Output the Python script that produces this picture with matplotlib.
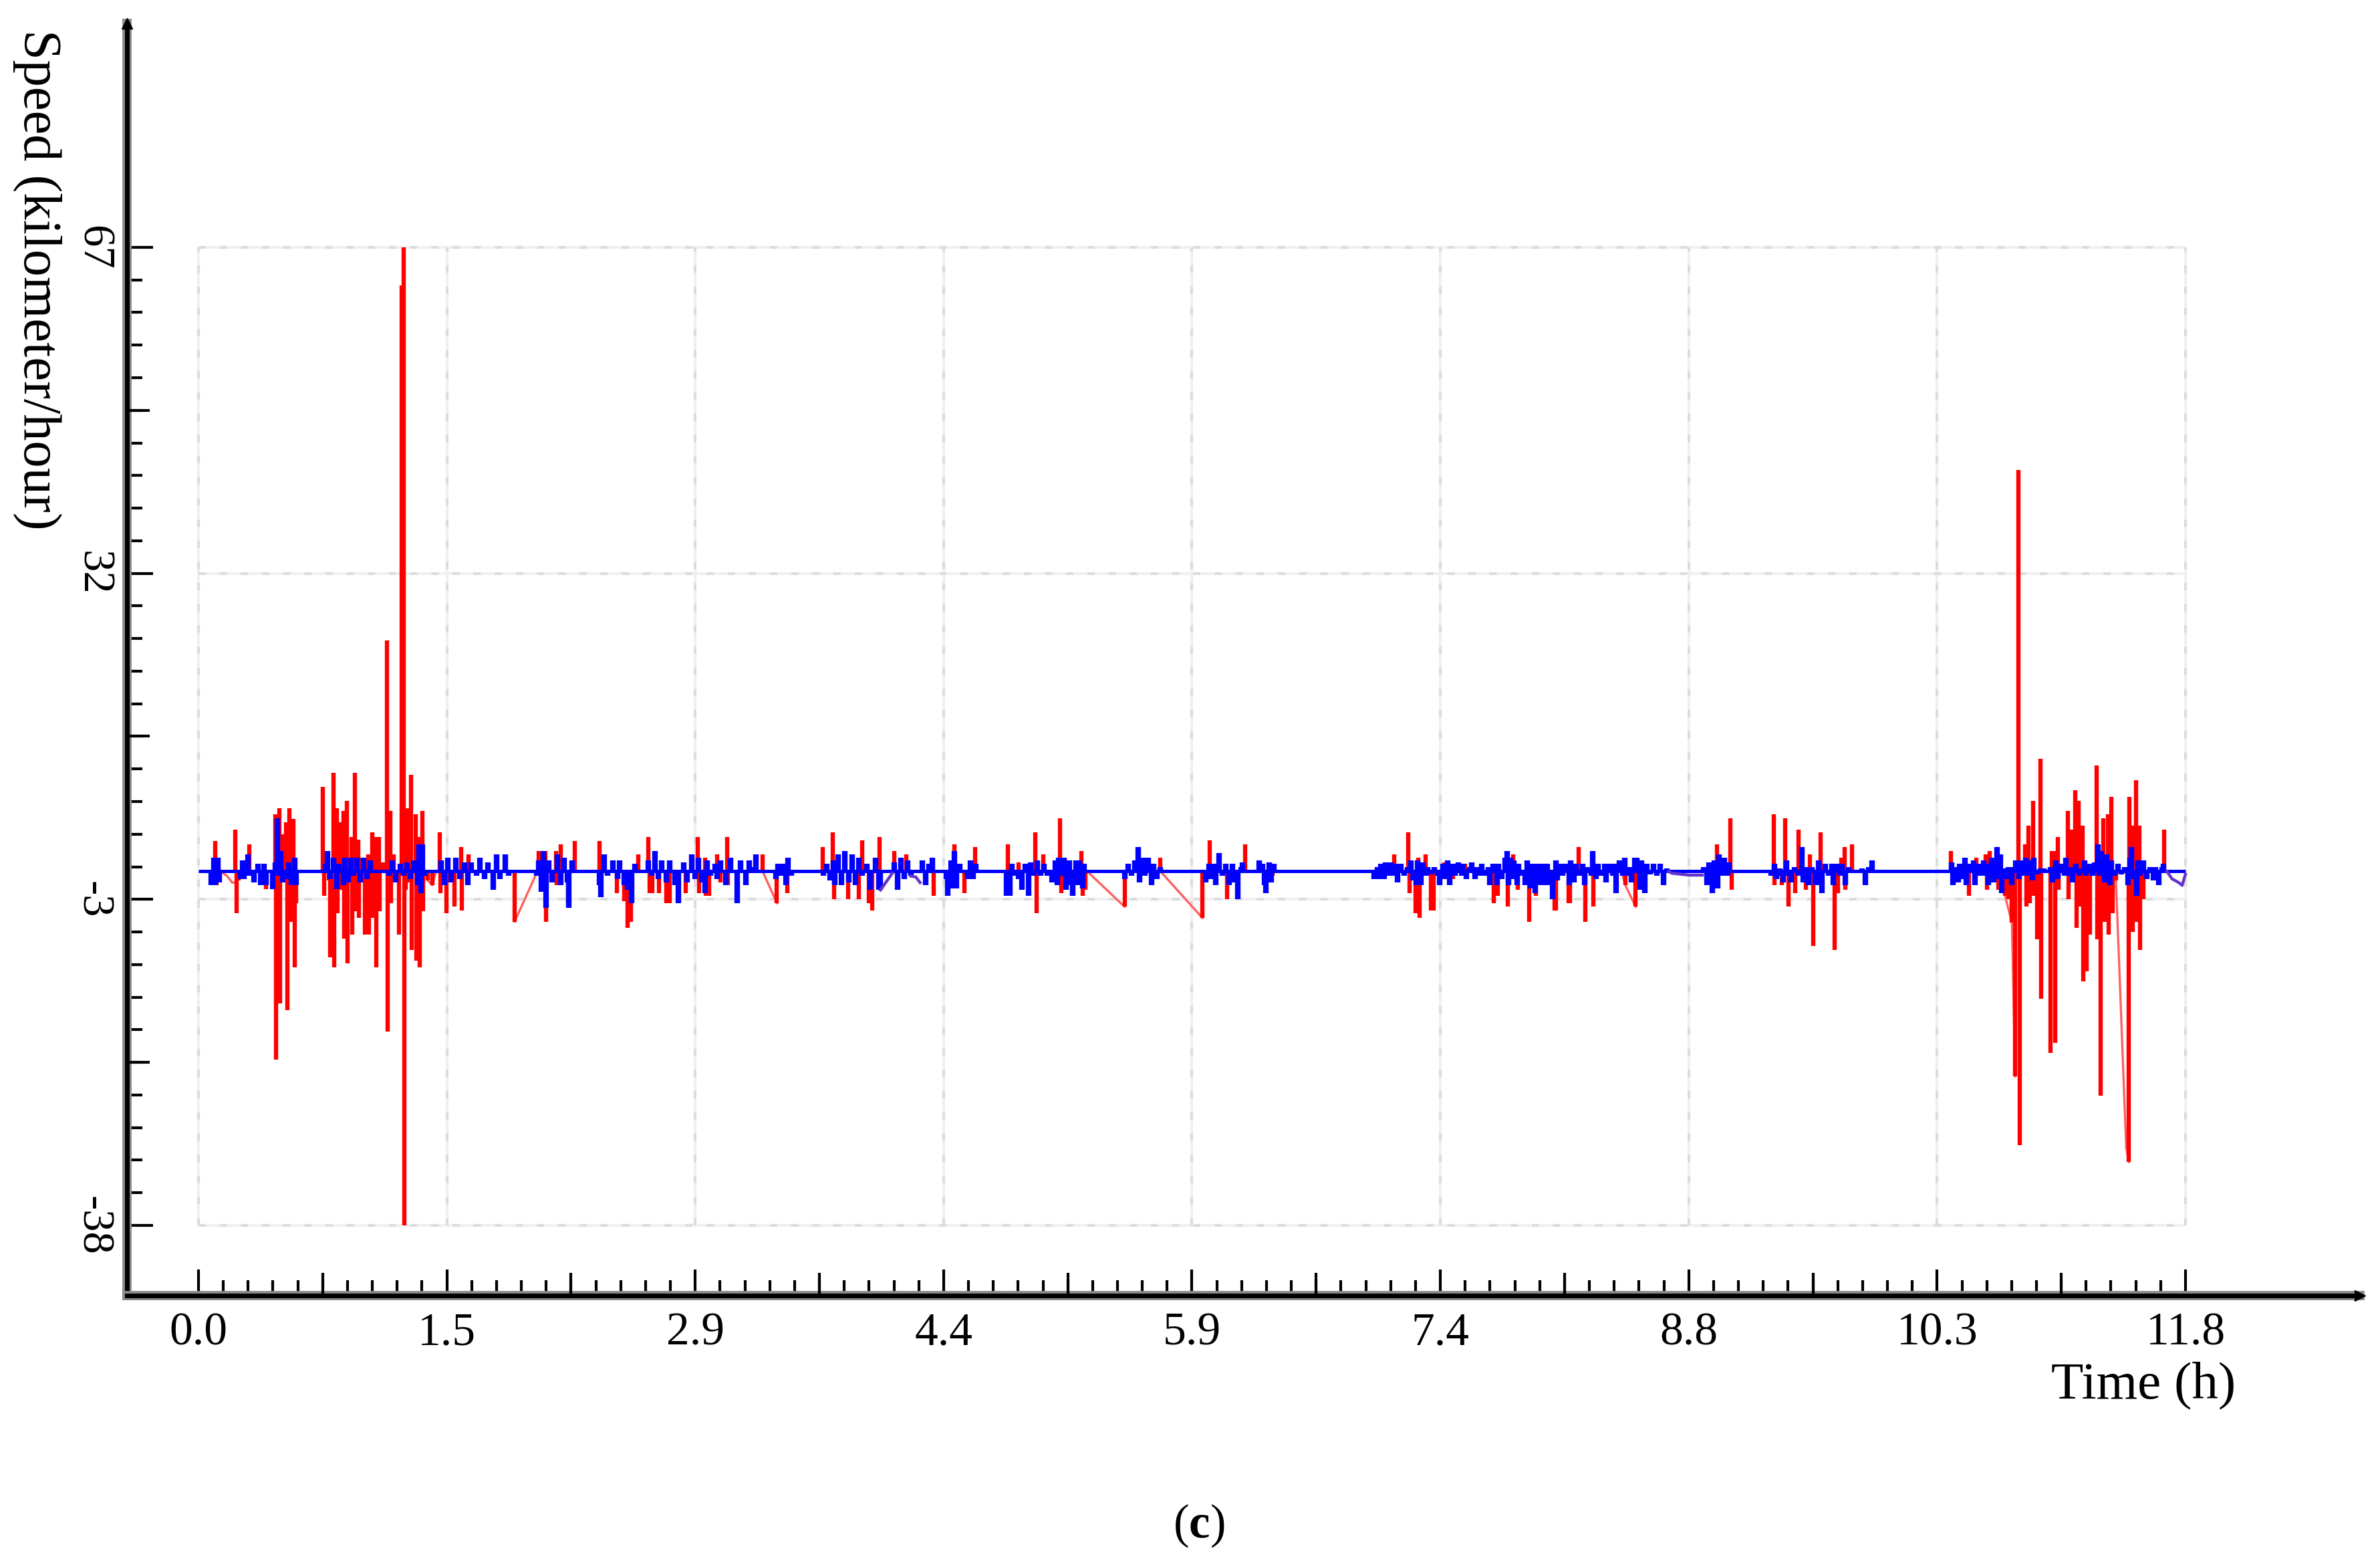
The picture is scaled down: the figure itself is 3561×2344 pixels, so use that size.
import numpy as np
import matplotlib
matplotlib.use("Agg")
import matplotlib.pyplot as plt
import matplotlib.patheffects as pe

plt.rcParams["font.family"] = ["Liberation Serif", "DejaVu Serif"]
plt.rcParams["mathtext.fontset"] = "custom"
plt.rcParams["mathtext.rm"] = "Liberation Serif"
plt.rcParams["mathtext.bf"] = "Liberation Serif:bold"
plt.rcParams["axes.unicode_minus"] = False

# ---- data (time in h, speed in km/h) ----
# red samples, each drawn as a bar from 0 to the value
red_pts = [
    (0.10, 3.3), (0.107, -1.5), (0.12, 0.5), (0.22, 4.5), (0.228, -4.5),
    (0.24, -1.0), (0.30, 2.9), (0.31, -0.5), (0.40, -1.9), (0.455, 6.1), (0.461, -20.2),
    (0.48, 6.8), (0.486, -14.2), (0.50, 4.0), (0.52, 5.3), (0.526, -14.9), (0.54, 6.8), (0.546, -5.4),
    (0.565, 5.6), (0.571, -10.3), (0.58, -3.4),
    (0.739, 9.1), (0.745, -2.6), (0.761, 1.5), (0.772, -1.0), (0.782, -9.2), (0.790, -1.0), (0.802, 10.6),
    (0.806, -10.3), (0.822, 6.8), (0.826, -4.5), (0.846, 5.3), (0.850, -2.0), (0.863, 6.5), (0.867, -7.2),
    (0.883, 7.6), (0.887, -9.9), (0.907, 3.7), (0.911, -6.8), (0.927, 10.6), (0.931, -4.3), (0.948, 3.4),
    (0.952, -5.0), (0.968, 1.5), (0.988, -6.8), (1.008, 1.8), (1.012, -6.8), (1.033, 4.2), (1.037, -5.0),
    (1.053, 3.7), (1.057, -10.3), (1.073, 3.7), (1.077, -4.3), (1.095, 1.0), (1.118, 24.8), (1.122, -17.2),
    (1.140, 6.5), (1.144, -3.4), (1.160, 1.8), (1.164, -1.2), (1.190, -6.8), (1.205, 62.9),
    (1.218, 67.0), (1.224, -38.0), (1.232, -2.0), (1.241, 6.8), (1.245, -1.2), (1.262, 10.4),
    (1.266, -8.4), (1.288, 6.1), (1.292, -9.6), (1.308, 3.7), (1.312, -10.3), (1.328, 6.5), (1.332, -4.3),
    (1.363, -1.0), (1.389, -1.5), (1.434, 4.2), (1.438, -2.3), (1.474, -4.5),
    (1.521, -3.8), (1.559, 2.6), (1.563, -4.2), (1.602, 1.8),
    (1.877, -5.4), (2.021, 2.2), (2.03, -0.5), (2.058, 2.2), (2.062, -5.4),
    (2.122, 2.2), (2.126, -1.5), (2.153, 2.9), (2.193, -3.4), (2.234, 3.3),
    (2.382, 3.3), (2.483, -2.3), (2.528, -3.2),
    (2.548, -6.1), (2.568, -5.4), (2.613, 1.8), (2.672, 3.7), (2.678, -2.3),
    (2.696, -2.3), (2.736, -2.3), (2.778, -3.4), (2.8, -3.4),
    (2.892, -2.3), (2.966, 3.7), (2.972, -2.3),
    (3.009, 1.5), (3.013, -2.6), (3.034, -2.6), (3.08, 1.8), (3.1, -1.2), (3.138, 3.7),
    (3.144, -1.5), (3.35, 1.8), (3.435, -3.4), (3.495, -2.3), (3.708, 2.6),
    (3.768, 4.2), (3.774, -3.0), (3.856, -3.0), (3.921, -3.0), (3.941, 3.35),
    (3.982, -3.4), (4.002, -4.2), (4.046, 3.7), (4.133, 2.2),
    (4.204, 1.8), (4.366, -2.6), (4.488, 2.9), (4.549, -2.3),
    (4.613, 2.6), (4.806, 2.9), (4.869, 1.0), (4.93, -1.5), (4.971, 4.2),
    (4.977, -4.5), (5.015, 1.8), (5.117, 5.7), (5.123, -2.3), (5.187, -2.6),
    (5.244, 2.2), (5.25, -2.6), (5.268, -2.0), (5.5, -3.8), (5.713, 1.5),
    (5.962, -5.0), (6.007, 3.35), (6.108, -3.0), (6.216, 2.9),
    (6.378, -0.5),
    (7.101, 1.8), (7.185, 4.2), (7.191, -2.3), (7.228, -4.5), (7.245, 1.5),
    (7.25, -5.0), (7.289, 1.8), (7.32, -4.2), (7.336, -4.2), (7.397, 1.0),
    (7.45, -0.8), (7.52, 0.8), (7.6, -0.5), (7.694, -3.4), (7.715, -2.6), (7.775, -3.8),
    (7.806, 1.8), (7.836, -2.0), (7.903, -5.4), (7.943, -2.6), (8.055, -4.2),
    (8.063, -4.2), (8.135, -3.4), (8.145, -3.4), (8.197, 2.6), (8.237, -5.4),
    (8.282, -3.8), (8.4, 0.5), (8.474, -1.5), (8.535, -3.8),
    (9.017, 2.9), (9.099, 5.7), (9.105, -2.0),
    (9.354, 6.1), (9.36, -1.5), (9.402, -1.5), (9.422, 5.7), (9.442, -3.8), (9.483, -2.3),
    (9.503, 4.5), (9.544, -2.0), (9.568, 1.8), (9.588, -8.0), (9.631, 4.2),
    (9.716, -8.4), (9.736, -2.3), (9.756, 1.5), (9.774, 2.6), (9.78, -2.0), (9.821, 2.9),
    (10.408, 2.2), (10.516, -2.6), (10.556, 1.5), (10.614, 1.8),
    (10.62, -2.0), (10.637, 2.2), (10.688, -2.0), (10.728, -2.6), (10.749, -3.0), (10.769, -5.5),
    (10.789, -22.0), (10.808, 43.1), (10.814, -29.4), (10.849, 2.9),
    (10.855, -3.8), (10.869, 4.9), (10.875, -3.4), (10.894, 7.6), (10.9, -2.6), (10.917, -7.3), (10.938, 12.1),
    (10.944, -13.7), (10.999, -19.5), (11.005, 2.2), (11.019, 2.2), (11.025, -18.4),
    (11.04, 3.7), (11.045, -2.0), (11.1, 6.5), (11.106, -3.0), (11.123, 4.5), (11.147, 8.7), (11.153, -6.1),
    (11.167, 7.6), (11.173, -3.8), (11.187, 4.9), (11.193, -11.8), (11.211, -10.7), (11.231, -6.8),
    (11.272, 11.4), (11.278, -7.3), (11.296, -24.1), (11.313, 5.7), (11.319, -5.4),
    (11.339, 6.1), (11.345, -6.8), (11.36, 8.0), (11.366, -4.5), (11.387, -1.0),
    (11.464, -31.2), (11.468, 8.0), (11.481, 4.9), (11.487, -6.5), (11.505, 9.8), (11.511, -5.4),
    (11.525, 4.9), (11.531, -8.4), (11.549, -3.0), (11.674, 4.5),
]

# faint red line pieces across the gaps between recordings
red_ramps = [
    ([0.13, 0.17, 0.2, 0.22], [0, -0.5, -1.2, -1.2]),
    ([1.345, 1.363, 1.389, 1.41], [0, -1.0, -1.5, 0]),
    ([1.877, 2.0], [-5.4, -0.5]),
    ([3.35, 3.435], [0, -3.4]),
    ([5.278, 5.5], [0, -3.8]),
    ([5.713, 5.962], [0, -5.0]),
    ([8.45, 8.474, 8.535], [0, -1.5, -3.8]),
    ([10.728, 10.769, 10.789], [-2.6, -5.5, -22.0]),
    ([11.387, 11.448, 11.464], [-1.0, -29.7, -31.2]),
]

# blue samples, each drawn as a bar from 0 to the value, on a flat zero line
blue_pts = [
    (0.077, -1.5), (0.09, 1.5), (0.1, -1.5), (0.115, 1.5), (0.125, -1.2),
    (0.25, -0.8), (0.262, 1.2), (0.27, -0.8), (0.295, 1.8), (0.30, -0.5), (0.33, -1.2),
    (0.355, 0.8), (0.37, -1.5), (0.39, 0.8), (0.40, -1.5),
    (0.44, -1.9), (0.455, 1.0), (0.47, 5.7), (0.475, -0.5), (0.49, 2.2), (0.5, -1.2), (0.52, -0.8),
    (0.535, 1.0), (0.55, -1.5), (0.57, 1.5), (0.58, -1.5),
    (0.755, 0.8), (0.765, 2.2), (0.78, -0.8), (0.8, 1.5), (0.82, -1.9), (0.835, 0.8), (0.86, -1.5),
    (0.87, 1.5), (0.89, -1.2), (0.905, 1.5), (0.92, -0.5), (0.94, 1.5), (0.96, -1.2), (0.98, 1.5),
    (1.0, -0.8), (1.02, 1.2),
    (1.13, -0.5), (1.15, 1.2), (1.17, -1.2), (1.2, 0.8), (1.22, -0.5), (1.24, 1.0), (1.26, -0.8),
    (1.28, 1.2), (1.3, -1.5), (1.31, 2.9), (1.32, -2.3), (1.33, 2.9), (1.34, -0.5),
    (1.44, 1.2), (1.46, -1.5), (1.48, 1.5), (1.5, -1.2), (1.53, 1.5), (1.55, -0.8), (1.58, 1.0),
    (1.6, -1.5), (1.62, 1.0), (1.65, -0.5), (1.67, 1.5), (1.7, -0.8), (1.72, 1.0), (1.75, -2.0), (1.77, 1.8),
    (1.79, -0.8), (1.82, 1.8), (1.84, -0.5),
    (2.01, -0.5), (2.02, 1.2), (2.035, -2.2), (2.05, 2.2), (2.065, -3.9), (2.08, 1.2), (2.1, -1.2),
    (2.13, 1.8), (2.15, -1.5), (2.17, 1.5), (2.19, -1.2), (2.2, -3.9), (2.22, 1.2),
    (2.38, -1.5), (2.39, -2.8), (2.41, 1.8), (2.43, -0.5), (2.46, 1.2), (2.49, -0.8), (2.5, 1.2),
    (2.53, -1.5), (2.55, -2.0), (2.57, -3.4), (2.59, 0.8),
    (2.67, 1.2), (2.69, -0.5), (2.71, 2.2), (2.73, -0.8), (2.75, 1.2), (2.78, -1.2), (2.8, 1.2),
    (2.83, -1.5), (2.85, -3.4), (2.88, 1.0), (2.9, -1.2), (2.93, 1.8), (2.95, -0.8), (2.97, 1.5),
    (2.99, -1.2), (3.01, -2.3), (3.02, 1.2), (3.04, -0.5), (3.07, 0.8), (3.08, -0.8), (3.1, 1.2),
    (3.13, -1.5), (3.16, 1.5), (3.2, -3.4), (3.22, 1.2), (3.25, -1.5), (3.27, 1.2), (3.29, 0.5), (3.31, 1.8),
    (3.43, -0.8), (3.44, 0.8), (3.46, -0.5), (3.47, 0.8), (3.49, -1.5), (3.5, 1.5), (3.52, -0.5),
    (3.71, -0.5), (3.73, 0.8), (3.75, -1.0), (3.77, 1.2), (3.78, -1.5), (3.8, 1.8), (3.82, -1.5),
    (3.84, 2.2), (3.86, -1.2), (3.88, 1.8), (3.9, -1.5), (3.92, 1.5), (3.94, -0.5), (3.97, 0.8),
    (3.99, -2.0), (4.02, 1.5), (4.04, -2.0), (4.05, -2.0), (4.13, 1.0), (4.15, -2.0),
    (4.17, 1.5), (4.19, -0.8), (4.21, 1.2), (4.23, -0.5), (4.3, 1.2),
    (4.32, -1.5), (4.34, 0.8), (4.36, 1.5),
    (4.44, -0.8), (4.45, -2.6), (4.47, 1.2), (4.48, -1.8), (4.49, 2.2), (4.5, -1.8), (4.52, 0.8),
    (4.57, -0.8), (4.585, 1.2), (4.6, -0.8), (4.615, 0.8),
    (4.8, -2.6), (4.82, -2.6), (4.83, 0.8), (4.85, -0.5), (4.87, -0.8), (4.89, -2.0), (4.91, 0.8),
    (4.93, -2.6), (4.94, 1.0), (4.96, -0.5), (4.98, 1.2), (5.0, -0.5), (5.02, 0.8), (5.04, -0.5),
    (5.07, -1.2), (5.09, 1.2), (5.1, -1.5), (5.11, 1.5), (5.13, -0.5), (5.14, 1.5), (5.15, -2.0),
    (5.17, 1.2), (5.18, -1.5), (5.19, -2.6), (5.21, 1.2), (5.22, -1.5), (5.23, 1.2), (5.25, -1.8),
    (5.26, 0.8),
    (5.5, -0.8), (5.52, 0.8), (5.54, -0.5), (5.56, 1.2), (5.58, 2.6), (5.59, -1.2), (5.61, 1.5),
    (5.62, -0.5), (5.64, 1.5), (5.66, -1.5), (5.67, 0.8), (5.69, -0.8), (5.71, 0.5),
    (5.98, -1.2), (6.0, 0.8), (6.01, -0.8), (6.03, 0.8), (6.04, -1.5), (6.06, 2.0), (6.08, -0.5),
    (6.1, 0.8), (6.12, -1.5), (6.14, 0.8), (6.15, -1.2), (6.17, -3.0), (6.19, 0.5), (6.2, 1.0),
    (6.3, 1.2), (6.32, 0.8), (6.33, -1.5), (6.34, -2.3), (6.36, 1.0), (6.37, -1.2), (6.385, 0.8),
    (6.98, -0.8), (7.0, 0.5), (7.01, -0.8), (7.02, 0.8), (7.04, -0.8), (7.05, 1.0), (7.07, -0.5),
    (7.08, 1.0), (7.1, -0.5), (7.11, 0.8), (7.12, -1.2), (7.14, 0.8), (7.16, -0.5), (7.18, 0.5), (7.2, 1.2),
    (7.21, -1.0), (7.23, -1.5), (7.24, 1.2), (7.26, -1.5), (7.27, 1.0), (7.29, -0.5), (7.3, 0.5),
    (7.32, -0.3), (7.34, 0.5), (7.36, -0.5), (7.37, -1.5), (7.39, 0.8), (7.4, -0.8), (7.42, 1.2),
    (7.43, -1.5), (7.45, 0.8), (7.46, -0.5), (7.48, 1.0), (7.5, -0.5), (7.51, 0.8), (7.53, -0.8), (7.55, 0.5),
    (7.56, 1.0), (7.58, -0.8), (7.59, 0.5), (7.61, -0.5), (7.62, 0.8), (7.64, -0.5), (7.66, 0.5),
    (7.67, -1.5), (7.69, 0.8), (7.71, -1.5), (7.72, 0.8), (7.74, -0.8), (7.76, 1.5), (7.77, 2.2),
    (7.78, -1.5), (7.79, 1.5), (7.8, -0.8), (7.81, 1.2), (7.83, -1.5), (7.84, 0.8), (7.86, -0.5),
    (7.88, -1.5), (7.89, 1.2), (7.91, -1.8), (7.92, 0.8), (7.94, -2.3), (7.95, 0.8), (7.97, -1.5),
    (7.98, 0.8), (8.0, -1.5), (8.01, 0.8), (8.03, -1.5), (8.04, -3.0), (8.06, 1.2), (8.07, -1.0), (8.09, 0.8),
    (8.1, -0.5), (8.12, 0.8), (8.14, -1.5), (8.15, 1.2), (8.17, -1.2), (8.18, 0.8), (8.2, -0.5), (8.22, 0.8),
    (8.23, -1.5), (8.25, 0.5), (8.27, -0.5), (8.28, 2.2), (8.3, -0.8), (8.31, 0.8), (8.33, -0.5), (8.35, 0.8),
    (8.36, -1.2), (8.38, 0.8), (8.4, -0.5), (8.41, 0.8), (8.42, -2.3), (8.44, 1.2), (8.46, -0.5),
    (8.47, 1.5), (8.49, -0.5), (8.5, 0.5), (8.51, -1.2), (8.53, 1.5), (8.54, 1.5), (8.56, -2.0), (8.57, 1.2),
    (8.59, -2.3), (8.6, 0.8), (8.62, -0.3), (8.64, 0.8), (8.66, -0.5), (8.68, 0.8), (8.7, -1.5), (8.72, 0.3),
    (8.94, 0.5), (8.96, -1.5), (8.97, 1.0),
    (8.99, -2.3), (9.0, 1.2), (9.02, -1.8), (9.03, 1.8), (9.05, -0.5), (9.06, 1.5), (9.08, -0.5),
    (9.09, 1.0),
    (9.34, -0.5), (9.36, 0.8), (9.37, -0.8), (9.39, 0.3), (9.4, -0.5), (9.41, -1.2), (9.43, 1.2),
    (9.44, -0.5), (9.46, -1.2), (9.48, 0.5), (9.5, -0.5), (9.52, 2.6), (9.53, -1.2), (9.55, 0.5),
    (9.56, -1.5), (9.58, 0.5), (9.6, -1.5), (9.62, 1.2), (9.63, -1.5), (9.64, -2.3), (9.66, 0.8),
    (9.68, -0.5), (9.7, 0.8), (9.71, -1.5), (9.73, 0.8), (9.75, -0.5), (9.76, 0.8), (9.78, -1.5), (9.8, 0.5),
    (9.88, 0.3), (9.9, -1.5), (9.92, 0.5), (9.94, 1.2),
    (10.41, 1.0), (10.42, -1.5), (10.44, 0.5), (10.45, -1.2), (10.46, 0.8), (10.48, -0.8),
    (10.49, 1.5), (10.5, -1.5), (10.52, 0.8), (10.54, 1.2), (10.55, -1.5), (10.57, 0.8), (10.58, -0.5),
    (10.6, 1.2), (10.61, -0.5), (10.62, 0.8), (10.63, -1.5), (10.65, 1.5), (10.66, -1.2), (10.68, 2.6),
    (10.69, -0.8), (10.7, 1.8), (10.71, -2.3), (10.73, 0.3), (10.74, -0.8), (10.75, 0.5), (10.77, -1.5),
    (10.78, 0.5), (10.79, 1.2), (10.81, -0.8), (10.82, 1.2), (10.83, -0.5), (10.85, 1.5), (10.86, -0.5),
    (10.88, 1.2), (10.89, -1.0), (10.9, 1.5), (10.92, -0.3), (10.94, 0.3), (10.96, 0.3), (11.0, 0.5),
    (11.01, -1.2), (11.03, 1.2), (11.04, -0.8), (11.06, 0.8), (11.08, -0.5), (11.09, 1.5), (11.1, -0.5),
    (11.12, 0.5), (11.13, -1.2), (11.15, 0.8), (11.17, -0.5), (11.18, 0.3), (11.2, 1.2), (11.21, -0.5),
    (11.23, 0.8), (11.25, -0.5), (11.26, 1.0), (11.28, 2.9), (11.29, -0.5), (11.3, 2.2), (11.32, -1.2),
    (11.33, 1.8), (11.35, -1.5), (11.36, 1.2), (11.38, -0.5), (11.4, 0.8), (11.42, -0.3), (11.44, 0.5),
    (11.46, -1.5), (11.47, 1.5), (11.48, 2.6), (11.49, -0.8), (11.51, -2.6), (11.52, 1.2), (11.53, -0.5),
    (11.55, 1.2), (11.57, -0.8), (11.59, 0.5), (11.61, -1.0), (11.62, 0.5), (11.64, -1.5), (11.66, 0.5),
    (11.67, 0.8),
]
blue_span = (0.0, 11.8)

# short purple pieces where both traces overlap off the zero line
mixed_ramps = [
    ([4.05, 4.12], [-2.0, -0.2]),
    ([4.23, 4.26, 4.285], [-0.5, -0.6, -1.2]),
    ([8.73, 8.75, 8.85, 8.93], [0, -0.2, -0.4, -0.4]),
    ([11.69, 11.72, 11.76, 11.78, 11.8], [0, -0.8, -1.2, -1.5, -0.3]),
]

x_major = [0.0, 1.475, 2.95, 4.425, 5.9, 7.375, 8.85, 10.325, 11.8]
x_labels = ["0.0", "1.5", "2.9", "4.4", "5.9", "7.4", "8.8", "10.3", "11.8"]
y_major = [-38, -3, 32, 67]
y_labels = ["-38", "-3", "32", "67"]

red_t, red_v = np.array(red_pts).T
blue_t, blue_v = np.array(blue_pts).T

# ---- figure laid out in reference pixels ----
W, H = 3561, 2344
fig = plt.figure(figsize=(W / 100, H / 100), dpi=100)
ax = fig.add_axes([190 / W, 1 - 1938 / H, (3531 - 190) / W, (1938 - 35) / H])
ax.set_xlim(-0.4247, 12.836)
ax.set_ylim(-45.54, 91.04)

# grid box (light dashed)
for col, ls in [("#f0f0f0", "-"), ("#dcdcdc", (0, (2.6, 5)))]:
    ax.vlines(x_major, y_major[0], y_major[-1], colors=col, lw=3, linestyles=[ls], zorder=1)
    ax.hlines(y_major, x_major[0], x_major[-1], colors=col, lw=3, linestyles=[ls], zorder=1)

for rt, rv in red_ramps:
    ax.plot(rt, rv, color="#ff6060", lw=2.4, zorder=2)
ax.vlines(red_t, 0, red_v, colors="#ff0000", lw=4.6, zorder=3)
ax.hlines(0, blue_span[0], blue_span[1], colors="#0000ff", lw=3.6, zorder=4)
ax.vlines(blue_t, 0, blue_v, colors="#0000ff", lw=6.0, zorder=4)
for mt, mv in mixed_ramps:
    ax.plot(mt, mv, color="#6633cc", lw=3.2, zorder=4)

# axes lines with grey halo and arrow heads
for side in ["top", "right"]:
    ax.spines[side].set_visible(False)
for side in ["left", "bottom"]:
    sp = ax.spines[side]
    sp.set_linewidth(5)
    sp.set_color("black")
    sp.set_path_effects([pe.Stroke(linewidth=10, foreground="#8a8a8a"), pe.Normal()])
ax.plot([0], [1], marker="^", ms=11, color="black", transform=ax.transAxes, clip_on=False, zorder=6)
ax.plot([1], [0], marker=">", ms=11, color="black", transform=ax.transAxes, clip_on=False, zorder=6)

# ticks
ax.set_xticks(x_major)
ax.set_xticklabels(x_labels)
ax.set_xticks(np.linspace(0, 11.8, 81), minor=True)
ax.set_yticks(y_major)
ax.set_yticklabels(y_labels)
ax.set_yticks(np.linspace(-38, 67, 31), minor=True)
ax.tick_params(which="major", direction="in", length=28, width=3, color="black")
ax.tick_params(which="minor", direction="in", length=16.5, width=3, color="black")
ax.tick_params(axis="x", which="major", pad=18, labelsize=50)
ax.tick_params(axis="y", which="major", pad=15, labelsize=48, labelrotation=-90)
for lab in ax.get_yticklabels():
    lab.set_va("center")

# medium ticks halfway between labelled ones
x_mid = [(a + b) / 2 for a, b in zip(x_major[:-1], x_major[1:])]
y_mid = [(a + b) / 2 for a, b in zip(y_major[:-1], y_major[1:])]
ax.vlines(x_mid, 0, 34 / 1903, transform=ax.get_xaxis_transform(), colors="black", lw=3, clip_on=False, zorder=5)
ax.hlines(y_mid, 0, 34 / 3341, transform=ax.get_yaxis_transform(), colors="black", lw=3, clip_on=False, zorder=5)

# labels
fig.text(56 / W, 1 - 418 / H, "Speed (kilometer/hour)", rotation=-90, ha="center", va="center", fontsize=58)
fig.text(3207 / W, 1 - 2072 / H, "Time (h)", ha="center", va="center", fontsize=57)
fig.text(1794 / W, 1 - 2282 / H, r"($\mathbf{c}$)", ha="center", va="center", fontsize=51)

fig.savefig("out.png", dpi=100, facecolor="white")
